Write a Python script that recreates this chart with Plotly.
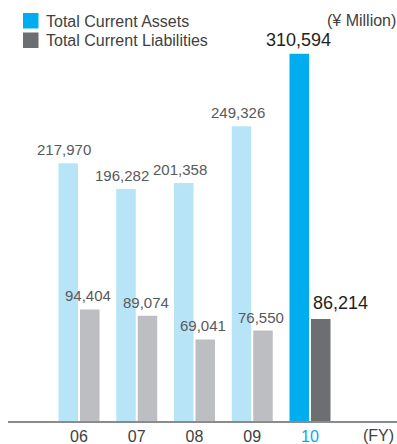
import plotly.graph_objects as go

years = ["06", "07", "08", "09", "10"]
assets = [217970, 196282, 201358, 249326, 310594]
liabilities = [94404, 89074, 69041, 76550, 86214]
series_names = ["Total Current Assets", "Total Current Liabilities"]
unit_label = "(¥ Million)"
axis_suffix = "(FY)"

HL = len(years) - 1  # highlighted year index
BLUE, BLUE_L = "#00aeef", "#b8e4f8"
GRAY, GRAY_L = "#6d6e71", "#bdbec1"
TXT, TXT_HL = "#58595b", "#231f20"
FONT = "Arial, Liberation Sans, sans-serif"

W, H = 397, 444
ML, MT, MB = 8, 40, 23
PW, PH = W - ML, H - MT - MB


def py(ypx):
    return (H - MB - ypx) / PH


def px(xpx):
    return (xpx - ML) / PW


xs = list(range(len(years)))
step_px = 57.75
bw = 19.5 / step_px
off_a = -20.5 / step_px
off_l = 1.0 / step_px

fig = go.Figure()
fig.add_trace(go.Bar(
    x=xs, y=assets, width=bw, offset=off_a,
    marker=dict(color=[BLUE if i == HL else BLUE_L for i in xs], line=dict(width=0)),
    showlegend=False, hoverinfo="skip"))
fig.add_trace(go.Bar(
    x=xs, y=liabilities, width=bw, offset=off_l,
    marker=dict(color=[GRAY if i == HL else GRAY_L for i in xs], line=dict(width=0)),
    showlegend=False, hoverinfo="skip"))

ann = []
for i in xs:
    hl = i == HL
    ann.append(dict(
        x=i + off_a + bw / 2, y=assets[i], xref="x", yref="y",
        text=f"{assets[i]:,}", showarrow=False, yanchor="bottom",
        xshift=-1 if hl else -4, yshift=2 if hl else 3,
        font=dict(family=FONT, size=18 if hl else 15, color=TXT_HL if hl else TXT)))
    ann.append(dict(
        x=i + off_l + bw / 2, y=liabilities[i], xref="x", yref="y",
        text=f"{liabilities[i]:,}", showarrow=False, yanchor="bottom",
        xshift=20 if hl else -2, yshift=4 if hl else 3,
        font=dict(family=FONT, size=18 if hl else 15, color=TXT_HL if hl else TXT)))

leg_colors = [BLUE, GRAY]
shapes = []
for k, (name, col) in enumerate(zip(series_names, leg_colors)):
    top = 13 + k * 19.5
    shapes.append(dict(type="rect", xref="paper", yref="paper",
                       x0=px(23), x1=px(38.5), y0=py(top + 15.5), y1=py(top),
                       fillcolor=col, line=dict(width=0), layer="above"))
    ann.append(dict(x=px(43.5), y=py(21 + k * 19.5),
                    xref="paper", yref="paper", xanchor="left", yanchor="middle",
                    text=name, showarrow=False,
                    font=dict(family=FONT, size=16, color="#414042")))

ann.append(dict(x=1, y=py(20.5), xref="paper", yref="paper", xshift=1,
                xanchor="right", yanchor="middle", text=unit_label, showarrow=False,
                font=dict(family=FONT, size=16, color="#414042")))
ann.append(dict(x=1, y=0, xref="paper", yref="paper", xanchor="right", yanchor="top",
                yshift=-4, xshift=-1, text=axis_suffix, showarrow=False,
                font=dict(family=FONT, size=16, color="#414042")))

ticktext = [f'<span style="color:{BLUE}">{y}</span>' if i == HL else y
            for i, y in enumerate(years)]

xmin = -(79 - ML) / step_px
xmax = xmin + PW / step_px

fig.update_layout(
    width=W, height=H,
    margin=dict(l=ML, r=0, t=MT, b=MB, pad=0, autoexpand=False),
    paper_bgcolor="white", plot_bgcolor="white",
    xaxis=dict(range=[xmin, xmax], tickvals=xs, ticktext=ticktext, automargin=False,
               showline=True, linecolor="#8a8b8d", linewidth=2,
               showgrid=False, zeroline=False, ticks="", ticklen=0,
               tickfont=dict(family=FONT, size=16, color="#414042")),
    yaxis=dict(range=[0, PH * 846], visible=False, showgrid=False, zeroline=False,
               automargin=False),
    annotations=ann, shapes=shapes,
)
fig.write_html("out.html", config={"displayModeBar": False},
               post_script="document.body.style.margin='0';document.body.style.overflow='hidden';")
